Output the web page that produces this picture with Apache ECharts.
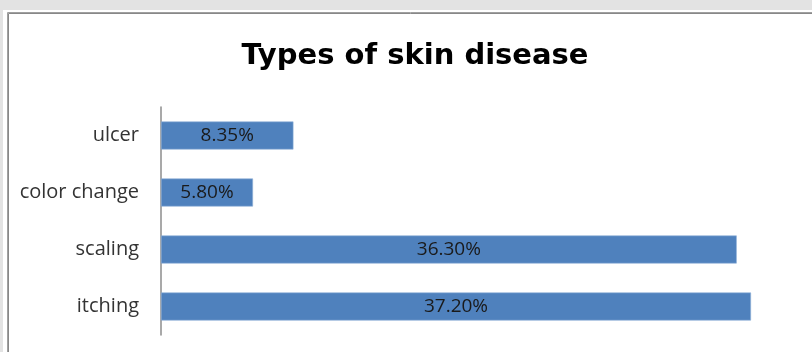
<!DOCTYPE html>
<html>
<head>
<meta charset="utf-8">
<script src="https://cdn.jsdelivr.net/npm/echarts@6/dist/echarts.min.js"></script>
<style>
  html, body { margin: 0; padding: 0; background: #e3e3e3; }
  #chart { width: 812px; height: 352px; }
</style>
</head>
<body>
<div id="chart"></div>
<script>
// Share of each skin-disease type (percent)
const categories = ['itching', 'scaling', 'color change', 'ulcer'];
const shares = [37.20, 36.30, 5.80, 8.35];
const titleText = 'Types of skin disease';

const chart = echarts.init(document.getElementById('chart'));

chart.setOption({
  animation: false,
  backgroundColor: '#e3e3e3',
  graphic: [
    // white sheet
    { type: 'rect', z: -10, shape: { x: 3, y: 10, width: 809, height: 342 }, style: { fill: '#ffffff' } },
    // frame of the chart area (double grey line)
    { type: 'rect', z: -9, shape: { x: 7.5, y: 12.5, width: 820, height: 350 },
      style: { fill: 'none', stroke: '#a0a0a0', lineWidth: 1 } },
    { type: 'rect', z: -9, shape: { x: 8.5, y: 13.5, width: 820, height: 350 },
      style: { fill: 'none', stroke: '#888888', lineWidth: 1 } }
  ],
  title: {
    text: titleText,
    left: 410,
    top: 37,
    textAlign: 'center',
    textStyle: {
      fontFamily: 'DejaVu Sans',
      fontWeight: 'bold',
      fontSize: 29,
      color: '#000000'
    }
  },
  grid: {
    left: 161,
    top: 107,
    width: 634.4,
    height: 228,
    containLabel: false
  },
  xAxis: {
    type: 'value',
    min: 0,
    max: 40,
    show: false
  },
  yAxis: {
    type: 'category',
    data: categories,
    axisLine: { show: true, lineStyle: { color: '#8c8c8c', width: 1.5 } },
    axisTick: { show: false },
    axisLabel: {
      margin: 22,
      padding: [3, 0, 0, 0],
      fontFamily: 'Open Sans',
      fontSize: 20,
      color: '#333333'
    },
    splitLine: { show: false }
  },
  series: [{
    type: 'bar',
    data: shares,
    barWidth: 28,
    itemStyle: { color: '#4f81bd', borderColor: '#8fb0d8', borderWidth: 0.6 },
    label: {
      show: true,
      position: 'inside',
      formatter: p => p.value.toFixed(2) + '%',
      fontFamily: 'Open Sans',
      fontSize: 19,
      color: '#1a1a1a'
    }
  }]
});
</script>
</body>
</html>
